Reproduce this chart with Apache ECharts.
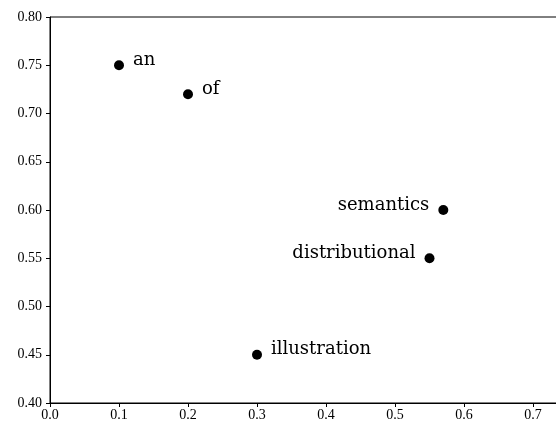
<!DOCTYPE html>
<html><head><meta charset="utf-8">
<script src="https://cdn.jsdelivr.net/npm/echarts@6/dist/echarts.min.js"></script>
<style>html,body{margin:0;padding:0;background:#fff;overflow:hidden}#c{width:610px;height:425px}</style>
</head><body><div id="c"></div>
<script>
const words = ['an', 'of', 'semantics', 'distributional', 'illustration'];
const xs = [0.10, 0.20, 0.57, 0.55, 0.30];
const ys = [0.75, 0.72, 0.60, 0.55, 0.45];
const labelSide = ['right', 'right', 'left', 'left', 'right'];
const xTicks = [0, 0.1, 0.2, 0.3, 0.4, 0.5, 0.6, 0.7];
const yTicks = [0.40, 0.45, 0.50, 0.55, 0.60, 0.65, 0.70, 0.75, 0.80];

const font = 'DejaVu Serif';
const tickFont = 'Liberation Serif';
const chart = echarts.init(document.getElementById('c'), null, {renderer: 'canvas'});
const data = words.map((w, i) => ({
  value: [xs[i], ys[i]], name: w,
  label: {position: labelSide[i]}
}));
chart.setOption({
  animation: false,
  grid: {left: 50, top: 17, bottom: 22, right: 8, show: true, borderColor: '#000', borderWidth: 1, backgroundColor: 'transparent'},
  xAxis: {
    type: 'value', min: 0, max: 0.8, interval: 0.1,
    splitLine: {show: false},
    axisLine: {onZero: false, lineStyle: {color: '#000', width: 1}},
    axisTick: {show: true, length: 4, lineStyle: {color: '#000'}, customValues: xTicks},
    axisLabel: {color: '#000', fontFamily: tickFont, fontSize: 14, margin: 5, customValues: xTicks, formatter: v => v.toFixed(1)}
  },
  yAxis: {
    type: 'value', min: 0.40, max: 0.80, interval: 0.05,
    splitLine: {show: false},
    axisLine: {show: true, onZero: false, lineStyle: {color: '#000', width: 1}},
    axisTick: {show: true, length: 4, lineStyle: {color: '#000'}, customValues: yTicks},
    axisLabel: {color: '#000', fontFamily: tickFont, fontSize: 14, margin: 8, customValues: yTicks, formatter: v => v.toFixed(2)}
  },
  series: [{
    type: 'scatter', symbol: 'circle', symbolSize: 10,
    itemStyle: {color: '#000', opacity: 1},
    data: data,
    label: {show: true, formatter: p => p.name, color: '#000', fontFamily: font, fontSize: 18, distance: 9, offset: [0, -5]}
  }]
});
</script></body></html>
